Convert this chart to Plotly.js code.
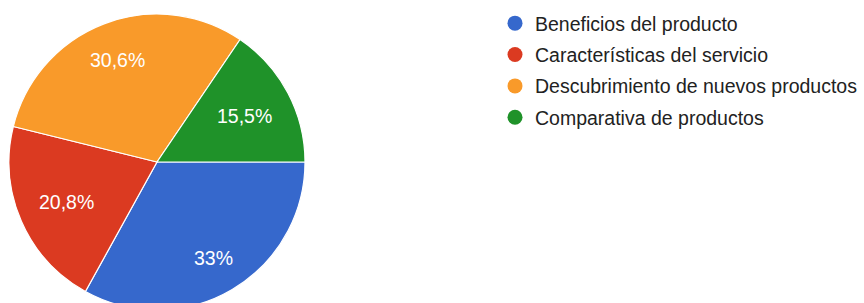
<!DOCTYPE html>
<html><head><meta charset="utf-8">
<script src="https://cdn.plot.ly/plotly-3.0.1.min.js"></script>
<style>html,body{margin:0;padding:0;background:#fff;overflow:hidden}</style>
</head><body>
<div id="chart"></div>
<script>
const categories = ["Beneficios del producto", "Características del servicio", "Descubrimiento de nuevos productos", "Comparativa de productos"];
const shares = [33, 20.8, 30.6, 15.5];
const sliceLabels = ["33%", "20,8%", "30,6%", "15,5%"];
const colors = ["#3668CC", "#DB3A21", "#F99A2A", "#1F9229"];

const W = 864, H = 330;
const FONT = "Arial, 'Liberation Sans', sans-serif";
const FS = 19.5;
const dom = {x0: 9, x1: 305, yTop: 14, yBot: 310};

const traces = [{
  type: "pie",
  values: shares,
  labels: categories,
  textinfo: "none",
  sort: false,
  direction: "clockwise",
  rotation: 90,
  marker: {colors: colors, line: {color: "#ffffff", width: 1.2}},
  showlegend: false,
  hoverinfo: "none",
  domain: {x: [dom.x0 / W, dom.x1 / W], y: [(H - dom.yBot) / H, (H - dom.yTop) / H]}
}];
categories.forEach((c, i) => {
  traces.push({
    type: "scatter", mode: "markers", x: [null], y: [null], name: c,
    legendgroup: "g" + i,
    marker: {color: colors[i], size: 15, symbol: "circle"},
    hoverinfo: "none", showlegend: true
  });
});

// slice labels placed along each slice's mid-angle, derived from the data
const ctx = document.createElement("canvas").getContext("2d");
ctx.font = FS + "px Arial, 'Liberation Sans', sans-serif";
const total = shares.reduce((a, b) => a + b, 0);
const cx = (dom.x0 + dom.x1) / 2, cy = (dom.yTop + dom.yBot) / 2;
const R = Math.min(dom.x1 - dom.x0, dom.yBot - dom.yTop) / 2;
const annotations = [];
let acc = 0;
shares.forEach((v, i) => {
  const mid = (acc + v / 2) / total * 2 * Math.PI; // clockwise from 3 o'clock
  acc += v;
  const hw = ctx.measureText(sliceLabels[i]).width / 2, hh = 7;
  const ext = hw * Math.abs(Math.cos(mid)) + hh * Math.abs(Math.sin(mid));
  const r = 0.855 * R - ext;
  const px = cx + r * Math.cos(mid), py = cy + r * Math.sin(mid);
  annotations.push({
    xref: "paper", yref: "paper", x: px / W, y: 1 - (py + 0.5) / H,
    xanchor: "center", yanchor: "middle", showarrow: false,
    text: sliceLabels[i], font: {family: FONT, size: FS, color: "#ffffff"}
  });
});

const layout = {
  width: W, height: H,
  margin: {l: 0, r: 0, t: 0, b: 0},
  paper_bgcolor: "#ffffff", plot_bgcolor: "#ffffff",
  xaxis: {visible: false}, yaxis: {visible: false},
  showlegend: true,
  annotations: annotations,
  legend: {
    x: 495 / W, xanchor: "left", y: 1 - 4 / H, yanchor: "top",
    font: {family: FONT, size: FS, color: "#222222"},
    itemsizing: "trace", bgcolor: "rgba(0,0,0,0)",
    traceorder: "grouped", tracegroupgap: 3
  }
};
Plotly.newPlot("chart", traces, layout, {staticPlot: true, displayModeBar: false});
</script>
</body></html>
